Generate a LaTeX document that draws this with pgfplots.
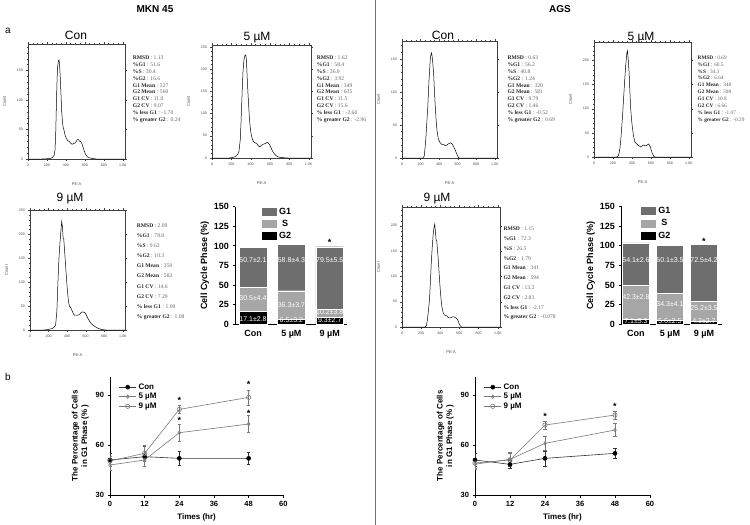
\documentclass[border=0pt]{standalone}
\usepackage{fontspec}
\setmainfont{Liberation Sans}
\newfontfamily\tnr{Liberation Serif}
\usepackage{pgfplots}
\pgfplotsset{compat=1.18}
\definecolor{gOne}{HTML}{6E6E6E}
\definecolor{gS}{HTML}{A6A6A6}
\definecolor{lnGray}{HTML}{7A7A7A}
\newcommand\lb[1]{\textcolor{black!85}{\textbf{#1}}}

\pgfplotsset{
  /pgf/number format/assume math mode=true,
  hist/.style={
    scale only axis, anchor=south west,
    xmin=0, xmax=1024, ymin=0,
    axis line style={line width=0.4pt, black!75},
    tick align=outside, major tick length=1.6pt, minor tick length=0.9pt,
    tick style={black!75, line width=0.3pt},
    xtick={0,200,...,1000}, xticklabels={0,200,400,600,800,1.0K},
    minor x tick num=3,
    ytick distance=50, minor y tick num=4,
    tick label style={font=\fontsize{3.6}{4}\selectfont, text=black!70},
    xlabel={PE-A}, ylabel={Count},
    label style={font=\fontsize{4}{5}\selectfont, text=black!70},
    xlabel style={yshift=-9pt},
    ylabel style={yshift=4pt},
  },
  bars/.style={
    scale only axis, anchor=south west,
    ybar stacked, reverse stacked plots=false,
    ymin=0, ymax=150, ytick={0,25,...,150},
    axis x line*=bottom, axis y line*=left,
    axis line style={line width=0.9pt},
    ytick style={line width=0.9pt, black}, xtick style={draw=none},
    tick align=outside, major tick length=2.5pt,
    tick label style={font=\bfseries\fontsize{9}{10}\selectfont},
    xtick={0,1,2}, xticklabels={Con,5 µM,9 µM},
    ylabel={Cell Cycle Phase (\%)},
    ylabel style={font=\bfseries\fontsize{9}{10}\selectfont, yshift=-2pt},
    reverse legend,
    legend style={draw=none, fill=none, font=\bfseries\fontsize{9}{10}\selectfont,
      anchor=north west, row sep=0.6pt, inner sep=0pt},
    legend image code/.code={\fill[##1, draw=none] (0pt,-4pt) rectangle (15pt,4pt);},
  },
  lines/.style={
    scale only axis, anchor=south west,
    xmin=0, xmax=60, ymin=30, ymax=101,
    xtick={0,12,...,60}, ytick={30,60,90},
    axis x line*=bottom, axis y line*=left,
    axis line style={line width=0.8pt},
    tick style={line width=0.8pt, black},
    tick align=outside, major tick length=2.5pt,
    tick label style={font=\bfseries\fontsize{7.5}{8}\selectfont},
    xlabel={Times (hr)},
    ylabel={The Percentage of Cells\\in G1 Phase (\% )},
    label style={font=\bfseries\fontsize{8}{9.5}\selectfont},
    ylabel style={align=center},
    legend style={draw=none, fill=none, font=\bfseries\fontsize{8}{9}\selectfont,
      anchor=north west, row sep=-1.5pt, inner sep=0pt},
    legend cell align=left,
    error bars/y dir=both, error bars/y explicit,
    error bars/error bar style={line width=0.5pt},
    error bars/error mark options={rotate=90, mark size=1.6pt, line width=0.5pt},
  },
  con/.style={black!80, line width=0.6pt, mark=*, mark size=2pt, mark options={fill=black, draw=black}},
  five/.style={lnGray, line width=0.6pt, mark=diamond, mark size=1.8pt, mark options={fill=white}},
  nine/.style={lnGray, line width=0.6pt, mark=o, mark size=2.2pt, mark options={fill=white}},
}
\tikzset{
  stat/.style={anchor=north west, inner sep=0pt, align=left, text=black!60,
    font=\tnr\fontsize{5.6}{6.9}\selectfont},
  ttl/.style={font=\fontsize{12}{13}\selectfont},
  val/.style={text=white, font=\fontsize{7}{8}\selectfont},
  star/.style={font=\bfseries\fontsize{9}{9}\selectfont},
}

\begin{document}
\begin{tikzpicture}
\useasboundingbox (0pt,0pt) rectangle (750pt,-525pt);
\draw[black!55, line width=0.7pt] (375pt,0pt) -- (375pt,-525pt);

\node[font=\bfseries\fontsize{10}{12}\selectfont] at (155pt,-9pt) {MKN 45};
\node[font=\bfseries\fontsize{10}{12}\selectfont] at (560pt,-9pt) {AGS};
\node[font=\fontsize{10}{12}\selectfont] at (8pt,-31pt) {a};
\node[font=\fontsize{10}{12}\selectfont] at (8pt,-377pt) {b};

\node[ttl] at (76pt,-35pt) {Con};
\node[ttl] at (257pt,-38pt) {5 µM};
\node[ttl] at (70pt,-199pt) {9 µM};
\node[ttl] at (443pt,-35pt) {Con};
\node[ttl] at (641pt,-38pt) {5 µM};
\node[ttl] at (437pt,-199pt) {9 µM};

% ---------- MKN 45 histograms ----------
\begin{axis}[hist, at={(28pt,-159pt)}, width=97pt, height=115pt, ymax=195]
\addplot[black, line width=0.5pt] coordinates {
(0,0) (150,0) (200,0.5) (240,1) (260,3) (275,6) (285,15) (292,40) (298,80) (305,125)
(312,155) (320,166) (327,168) (333,160) (340,140) (348,110) (356,80) (364,62) (372,53)
(380,49) (392,40) (405,35) (420,31) (435,30) (450,27) (465,25) (480,26) (495,27)
(510,30) (522,33) (532,33) (545,30) (560,29) (572,25) (585,18) (597,12) (610,7)
(625,4) (645,2) (680,1) (720,0) (1024,0)};
\end{axis}
\node[stat] at (132.7pt,-55.5pt) {\lb{RMSD} : 1.13\\\lb{\%G1} : 51.6\\\lb{\%S} : 30.4\\\lb{\%G2} : 16.6\\\lb{G1 Mean} : 327\\\lb{G2 Mean} : 560\\\lb{G1 CV} : 11.0\\\lb{G2 CV} : 9.07\\\lb{\% less G1} : -1.70\\\lb{\% greater G2} : 0.24};

\begin{axis}[hist, at={(212pt,-158pt)}, width=99pt, height=113pt, ymax=254]
\addplot[black, line width=0.5pt] coordinates {
(0,0) (180,0) (207,1) (243,3) (265,8) (279,15) (292,40) (300,80) (307,120) (314,160)
(321,195) (330,220) (340,230) (350,232) (356,220) (362,190) (371,150) (380,115)
(386,92) (395,70) (404,55) (418,42) (432,36) (448,34) (464,32) (478,28) (493,25)
(510,28) (529,31) (545,32) (557,33) (570,35) (582,34) (595,30) (607,25) (620,18)
(636,12) (650,8) (664,5) (690,2) (720,1) (780,0) (1024,0)};
\end{axis}
\node[stat] at (316.7pt,-55.5pt) {\lb{RMSD} : 1.62\\\lb{\%G1} : 58.4\\\lb{\%S} : 36.9\\\lb{\%G2} : 3.92\\\lb{G1 Mean} : 349\\\lb{G2 Mean} : 635\\\lb{G1 CV} : 11.5\\\lb{G2 CV} : 15.6\\\lb{\% less G1} : -2.60\\\lb{\% greater G2} : -2.96};

\begin{axis}[hist, at={(30pt,-330pt)}, width=95pt, height=120pt, ymax=251]
\addplot[black, line width=0.5pt] coordinates {
(0,0) (150,0) (195,1) (239,3) (260,6) (276,10) (290,40) (301,100) (312,150) (324,185)
(334,210) (342,227) (350,215) (357,192) (364,190) (371,171) (382,140) (393,108)
(404,80) (415,59) (425,50) (434,48) (443,45) (452,41) (465,35) (478,31) (495,31)
(515,31) (530,32) (540,34) (555,37) (570,38) (580,37) (592,36) (605,32) (625,24)
(645,17) (662,13) (685,9) (710,6) (740,3) (772,1) (820,0) (1024,0)};
\end{axis}
\node[stat, font=\tnr\fontsize{5.6}{10.1}\selectfont] at (136.7pt,-223.5pt) {\lb{RMSD} : 2.09\\\lb{\%G1} : 78.8\\\lb{\%S} : 9.63\\\lb{\%G2} : 10.3\\\lb{G1 Mean} : 350\\\lb{G2 Mean} : 582\\\lb{G1 CV} : 14.6\\\lb{G2 CV} : 7.29\\\lb{\% less G1} : 1.00\\\lb{\% greater G2} : 1.08};

% ---------- AGS histograms ----------
\begin{axis}[hist, at={(402pt,-158pt)}, width=95pt, height=117pt, ymax=177]
\addplot[black, line width=0.5pt] coordinates {
(0,0) (225,0) (240,3) (256,27) (268,55) (278,77) (290,115) (304,148) (312,157)
(319,159) (328,150) (341,128) (350,100) (359,77) (368,57) (377,42) (390,30) (407,24)
(425,21) (451,20) (465,19) (480,19) (495,21) (509,22) (522,23) (535,22) (550,19)
(568,14) (582,9) (597,4) (608,1) (615,0) (1024,0)};
\end{axis}
\node[stat] at (507.3pt,-55.5pt) {\lb{RMSD} : 0.63\\\lb{\%G1} : 56.2\\\lb{\%S} : 40.8\\\lb{\%G2} : 1.24\\\lb{G1 Mean} : 320\\\lb{G2 Mean} : 581\\\lb{G1 CV} : 9.79\\\lb{G2 CV} : 1.46\\\lb{\% less G1} : -0.52\\\lb{\% greater G2} : 0.69};

\begin{axis}[hist, at={(594pt,-157pt)}, width=97pt, height=115pt, ymax=238]
\addplot[black, line width=0.5pt] coordinates {
(0,0) (240,0) (255,2) (265,8) (275,20) (283,36) (292,60) (301,84) (312,120) (324,159)
(335,190) (346,214) (353,220) (362,200) (371,173) (378,140) (386,104) (395,80)
(404,63) (416,45) (430,32) (445,28) (460,25) (475,23) (493,21) (508,23) (522,25)
(535,24) (548,23) (562,25) (577,27) (590,23) (603,15) (615,8) (632,1) (645,0) (1024,0)};
\end{axis}
\node[stat, font=\tnr\fontsize{5.3}{6.9}\selectfont] at (697.5pt,-55.5pt) {\lb{RMSD} : 0.69\\\lb{\%G1} : 60.5\\\lb{\%S} : 34.3\\\lb{\%G2} : 6.64\\\lb{G1 Mean} : 348\\\lb{G2 Mean} : 598\\\lb{G1 CV} : 10.8\\\lb{G2 CV} : 6.66\\\lb{\% less G1} : -1.07\\\lb{\% greater G2} : -0.29};

\begin{axis}[hist, at={(402pt,-327pt)}, width=98pt, height=120pt, ymax=237]
\addplot[black, line width=0.5pt] coordinates {
(0,0) (240,0) (255,3) (263,11) (275,30) (288,56) (297,90) (306,127) (315,155)
(324,179) (333,195) (342,203) (349,190) (356,172) (363,170) (372,150) (381,127)
(390,100) (399,75) (408,55) (417,40) (430,28) (442,24) (455,23) (468,22) (482,19)
(496,18) (510,18) (525,20) (540,20) (555,19) (570,17) (585,13) (598,6) (610,2)
(622,0) (1024,0)};
\end{axis}
\node[stat, font=\tnr\fontsize{5.6}{9.8}\selectfont] at (503.3pt,-226.8pt) {\lb{RMSD} : 1.15\\\lb{\%G1} : 72.3\\\lb{\%S} : 26.5\\\lb{\%G2} : 1.79\\\lb{G1 Mean} : 341\\\lb{G2 Mean} : 594\\\lb{G1 CV} : 13.2\\\lb{G2 CV} : 2.83\\\lb{\% less G1} : -2.17\\\lb{\% greater G2} : -0.078};

% ---------- stacked bars ----------
\begin{axis}[bars, at={(235pt,-324.3pt)}, width=112pt, height=117.6pt,
  xmin=-0.47, xmax=2.45, bar width=27.5pt,
  legend style={at={(0.24,1.01)}}]
\addplot[fill=black, draw=white, line width=0.3pt] coordinates {(0,17.1) (1,6.5) (2,9.3)};
\addplot[fill=gS, draw=white, line width=0.3pt] coordinates {(0,30.5) (1,36.3) (2,10.2)};
\addplot[fill=gOne, draw=white, line width=0.3pt] coordinates {(0,50.7) (1,58.8) (2,79.5)};
\legend{G2,S,G1}
\node[val] at (axis cs:0,82) {50.7±2.1};
\node[val] at (axis cs:1,82) {58.8±4.3};
\node[val] at (axis cs:2,82) {79.5±5.5};
\node[val] at (axis cs:0,33) {30.5±4.4};
\node[val] at (axis cs:1,24) {36.3±3.7};
\node[val] at (axis cs:2,16) {10.2±3.8};
\node[val] at (axis cs:0,6.5) {17.1±2.8};
\node[val] at (axis cs:1,5.5) {6.5±3.2};
\node[val] at (axis cs:2,5.5) {9.3±2.7};
\node[star] at (axis cs:2,104) {*};
\end{axis}

\begin{axis}[bars, at={(621pt,-324.3pt)}, width=101pt, height=118pt,
  xmin=-0.44, xmax=2.53, bar width=27pt,
  legend style={at={(0.2,1.01)}}]
\addplot[fill=black, draw=white, line width=0.3pt] coordinates {(0,7.1) (1,5.6) (2,4.3)};
\addplot[fill=gS, draw=white, line width=0.3pt] coordinates {(0,42.3) (1,34.3) (2,25.2)};
\addplot[fill=gOne, draw=white, line width=0.3pt] coordinates {(0,54.1) (1,60.1) (2,72.5)};
\legend{G2,S,G1}
\node[val] at (axis cs:0,82) {54.1±2.6};
\node[val] at (axis cs:1,82) {60.1±3.5};
\node[val] at (axis cs:2,82) {72.5±4.2};
\node[val] at (axis cs:0,34) {42.3±2.8};
\node[val] at (axis cs:1,25.5) {34.3±4.1};
\node[val] at (axis cs:2,20.5) {25.2±3.5};
\node[val] at (axis cs:0,4) {7.1±5.3};
\node[val] at (axis cs:1,4) {5.6±2.5};
\node[val] at (axis cs:2,4) {4.3±2.7};
\node[star] at (axis cs:2,106) {*};
\end{axis}

% ---------- G1 time course ----------
\begin{axis}[lines, at={(110pt,-495pt)}, width=173.3pt, height=118.3pt,
  legend style={at={(0.05,0.96)}}]
\addplot[con, error bars/error bar style={black!80}] coordinates {
(0,51) +- (0,4) (12,53) +- (0,6) (24,52) +- (0,4.4) (48,52) +- (0,3.7)};
\addplot[five] coordinates {
(0,48) +- (0,3) (12,51) +- (0,4) (24,67.4) +- (0,5) (48,72.6) +- (0,5)};
\addplot[nine] coordinates {
(0,50.5) +- (0,3) (12,55) +- (0,5) (24,81.4) +- (0,2.5) (48,88.6) +- (0,4.5)};
\legend{Con,5 µM,9 µM}
\node[star] at (axis cs:24,86.5) {*};
\node[star] at (axis cs:24,74.5) {*};
\node[star] at (axis cs:48,96.2) {*};
\node[star] at (axis cs:48,79.2) {*};
\end{axis}

\begin{axis}[lines, at={(475pt,-495pt)}, width=175pt, height=118.3pt,
  legend style={at={(0.05,0.96)}}]
\addplot[con, error bars/error bar style={black!80}] coordinates {
(0,51) +- (0,4) (12,48.4) +- (0,2.5) (24,52) +- (0,4.5) (48,55) +- (0,3)};
\addplot[five] coordinates {
(0,48.5) +- (0,3) (12,51.4) +- (0,4) (24,61) +- (0,4) (48,69) +- (0,4)};
\addplot[nine] coordinates {
(0,49.2) +- (0,3) (12,51) +- (0,4) (24,72) +- (0,2.5) (48,78) +- (0,2.5)};
\legend{Con,5 µM,9 µM}
\node[star] at (axis cs:24,77.2) {*};
\node[star] at (axis cs:48,83.2) {*};
\end{axis}
\end{tikzpicture}
\end{document}
